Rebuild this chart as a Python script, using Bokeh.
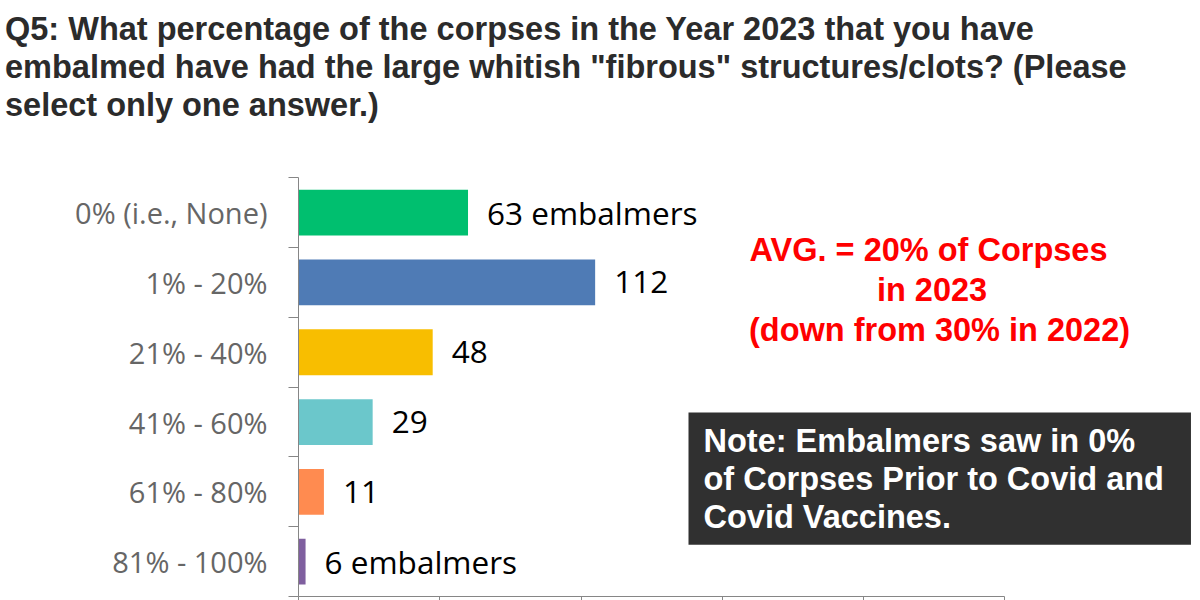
from bokeh.plotting import figure
from bokeh.models import Range1d, FixedTicker, Label, ColumnDataSource, Title
from bokeh.core.properties import value
from bokeh.embed import file_html
from bokeh.resources import INLINE

# ---- data ----
categories = ["0% (i.e., None)", "1% - 20%", "21% - 40%", "41% - 60%", "61% - 80%", "81% - 100%"]
bar_percent = [24.0, 42.0, 19.0, 10.5, 3.6, 1.0]
embalmer_counts = [63, 112, 48, 29, 11, 6]
bar_colors = ["#00BF6F", "#4F7BB5", "#F8BE00", "#6BC7CB", "#FF8B50", "#7F5F9F"]
x_ticks = [0, 20, 40, 60, 80, 100]

title_lines = [
    "Q5: What percentage of the corpses in the Year 2023 that you have",
    "embalmed have had the large whitish \"fibrous\" structures/clots? (Please",
    "select only one answer.)",
]
avg_lines = ["AVG. = 20% of Corpses", "in 2023", "(down from 30% in 2022)"]
note_text = "Note: Embalmers saw in 0%\nof Corpses Prior to Covid and\nCovid Vaccines."

labels = [f"{c} embalmers" if i in (0, len(embalmer_counts) - 1) else str(c)
          for i, c in enumerate(embalmer_counts)]
rows = list(range(len(categories)))

src = ColumnDataSource(dict(y=rows, right=bar_percent, color=bar_colors, label=labels))

# ---- geometry (page px) ----
W, H = 1200, 600
FR_LEFT, FR_BOTTOM, FR_TOP = 298, 596, 122
AXIS_RIGHT = 1004.3          # where x=100 sits
ROW_TOP = 177.3              # top boundary of first row
row_px = (FR_BOTTOM - ROW_TOP) / len(categories)
x_end = 100 * (W - FR_LEFT) / (AXIS_RIGHT - FR_LEFT)
y_top = -0.5 - (ROW_TOP - FR_TOP) / row_px

p = figure(width=W, height=H, output_backend="svg", toolbar_location=None,
           x_range=Range1d(0, x_end), y_range=Range1d(len(categories) - 0.5, y_top),
           min_border_left=FR_LEFT, min_border_right=0, min_border_top=FR_TOP,
           min_border_bottom=H - FR_BOTTOM)
p.title.visible = False
p.outline_line_color = None
p.xgrid.visible = False
p.ygrid.visible = False
p.background_fill_color = "white"
p.border_fill_color = "white"

p.hbar(y="y", left=0, right="right", height=0.656, color="color", source=src, line_color=None)
p.text(x="right", y="y", text="label", source=src, x_offset=19, text_baseline="middle",
       text_align="left", text_font=value("Open Sans"), text_font_size="31.5px", text_color="black")

# x axis (its labels are cropped away in the reference)
xa = p.xaxis[0]
xa.ticker = FixedTicker(ticks=x_ticks)
xa.bounds = (0, 100)
xa.major_label_overrides = {t: "" for t in x_ticks}
xa.major_label_standoff = 0
xa.major_tick_out = 4
xa.major_tick_in = 0
xa.minor_tick_line_color = None
xa.axis_line_color = "#868686"
xa.major_tick_line_color = "#868686"

# y axis: labels at centres, ticks at boundaries
ya = p.yaxis[0]
ya.bounds = (-0.5, len(categories) - 0.5)
ya.ticker = FixedTicker(ticks=rows, minor_ticks=[r - 0.5 for r in rows] + [rows[-1] + 0.5])
ya.major_label_overrides = {r: c for r, c in zip(rows, categories)}
ya.major_tick_line_color = None
ya.major_tick_out = 0
ya.major_tick_in = 0
ya.minor_tick_out = 10
ya.minor_tick_in = 0
ya.minor_tick_line_color = "#868686"
ya.axis_line_color = "#868686"
ya.major_label_standoff = 21
ya.major_label_text_font = "Open Sans"
ya.major_label_text_font_size = "29px"
ya.major_label_text_color = "#666666"

# title lines (added bottom line first: later titles stack further up)
for line in reversed(title_lines):
    p.add_layout(Title(text=line, align="left", offset=4.5 - FR_LEFT, standoff=0,
                       text_font="Liberation Sans", text_font_style="bold", text_font_size="32.5px",
                       text_color="#2B2B2B"), "above")


def sx(px):
    return px - FR_LEFT


def sy(py):
    return FR_BOTTOM - py


for line, cx, cy in zip(avg_lines, [928, 931.5, 939], [249, 289, 329]):
    p.add_layout(Label(x=sx(cx), y=sy(cy), x_units="screen", y_units="screen", text=line,
                       text_font="Liberation Sans", text_font_style="bold", text_font_size="32.5px",
                       text_color="#FF0000", text_align="center", text_baseline="middle"))

p.add_layout(Label(x=sx(688), y=sy(412), x_units="screen", y_units="screen", text=note_text,
                   text_font="Liberation Sans", text_font_style="bold", text_font_size="32.5px",
                   text_color="white", text_align="left", text_baseline="top", anchor="top_left",
                   text_line_height=1.06, background_fill_color="#303030",
                   padding=(15, 27, 10, 10)))

open("out.html", "w").write(file_html(p, INLINE))
